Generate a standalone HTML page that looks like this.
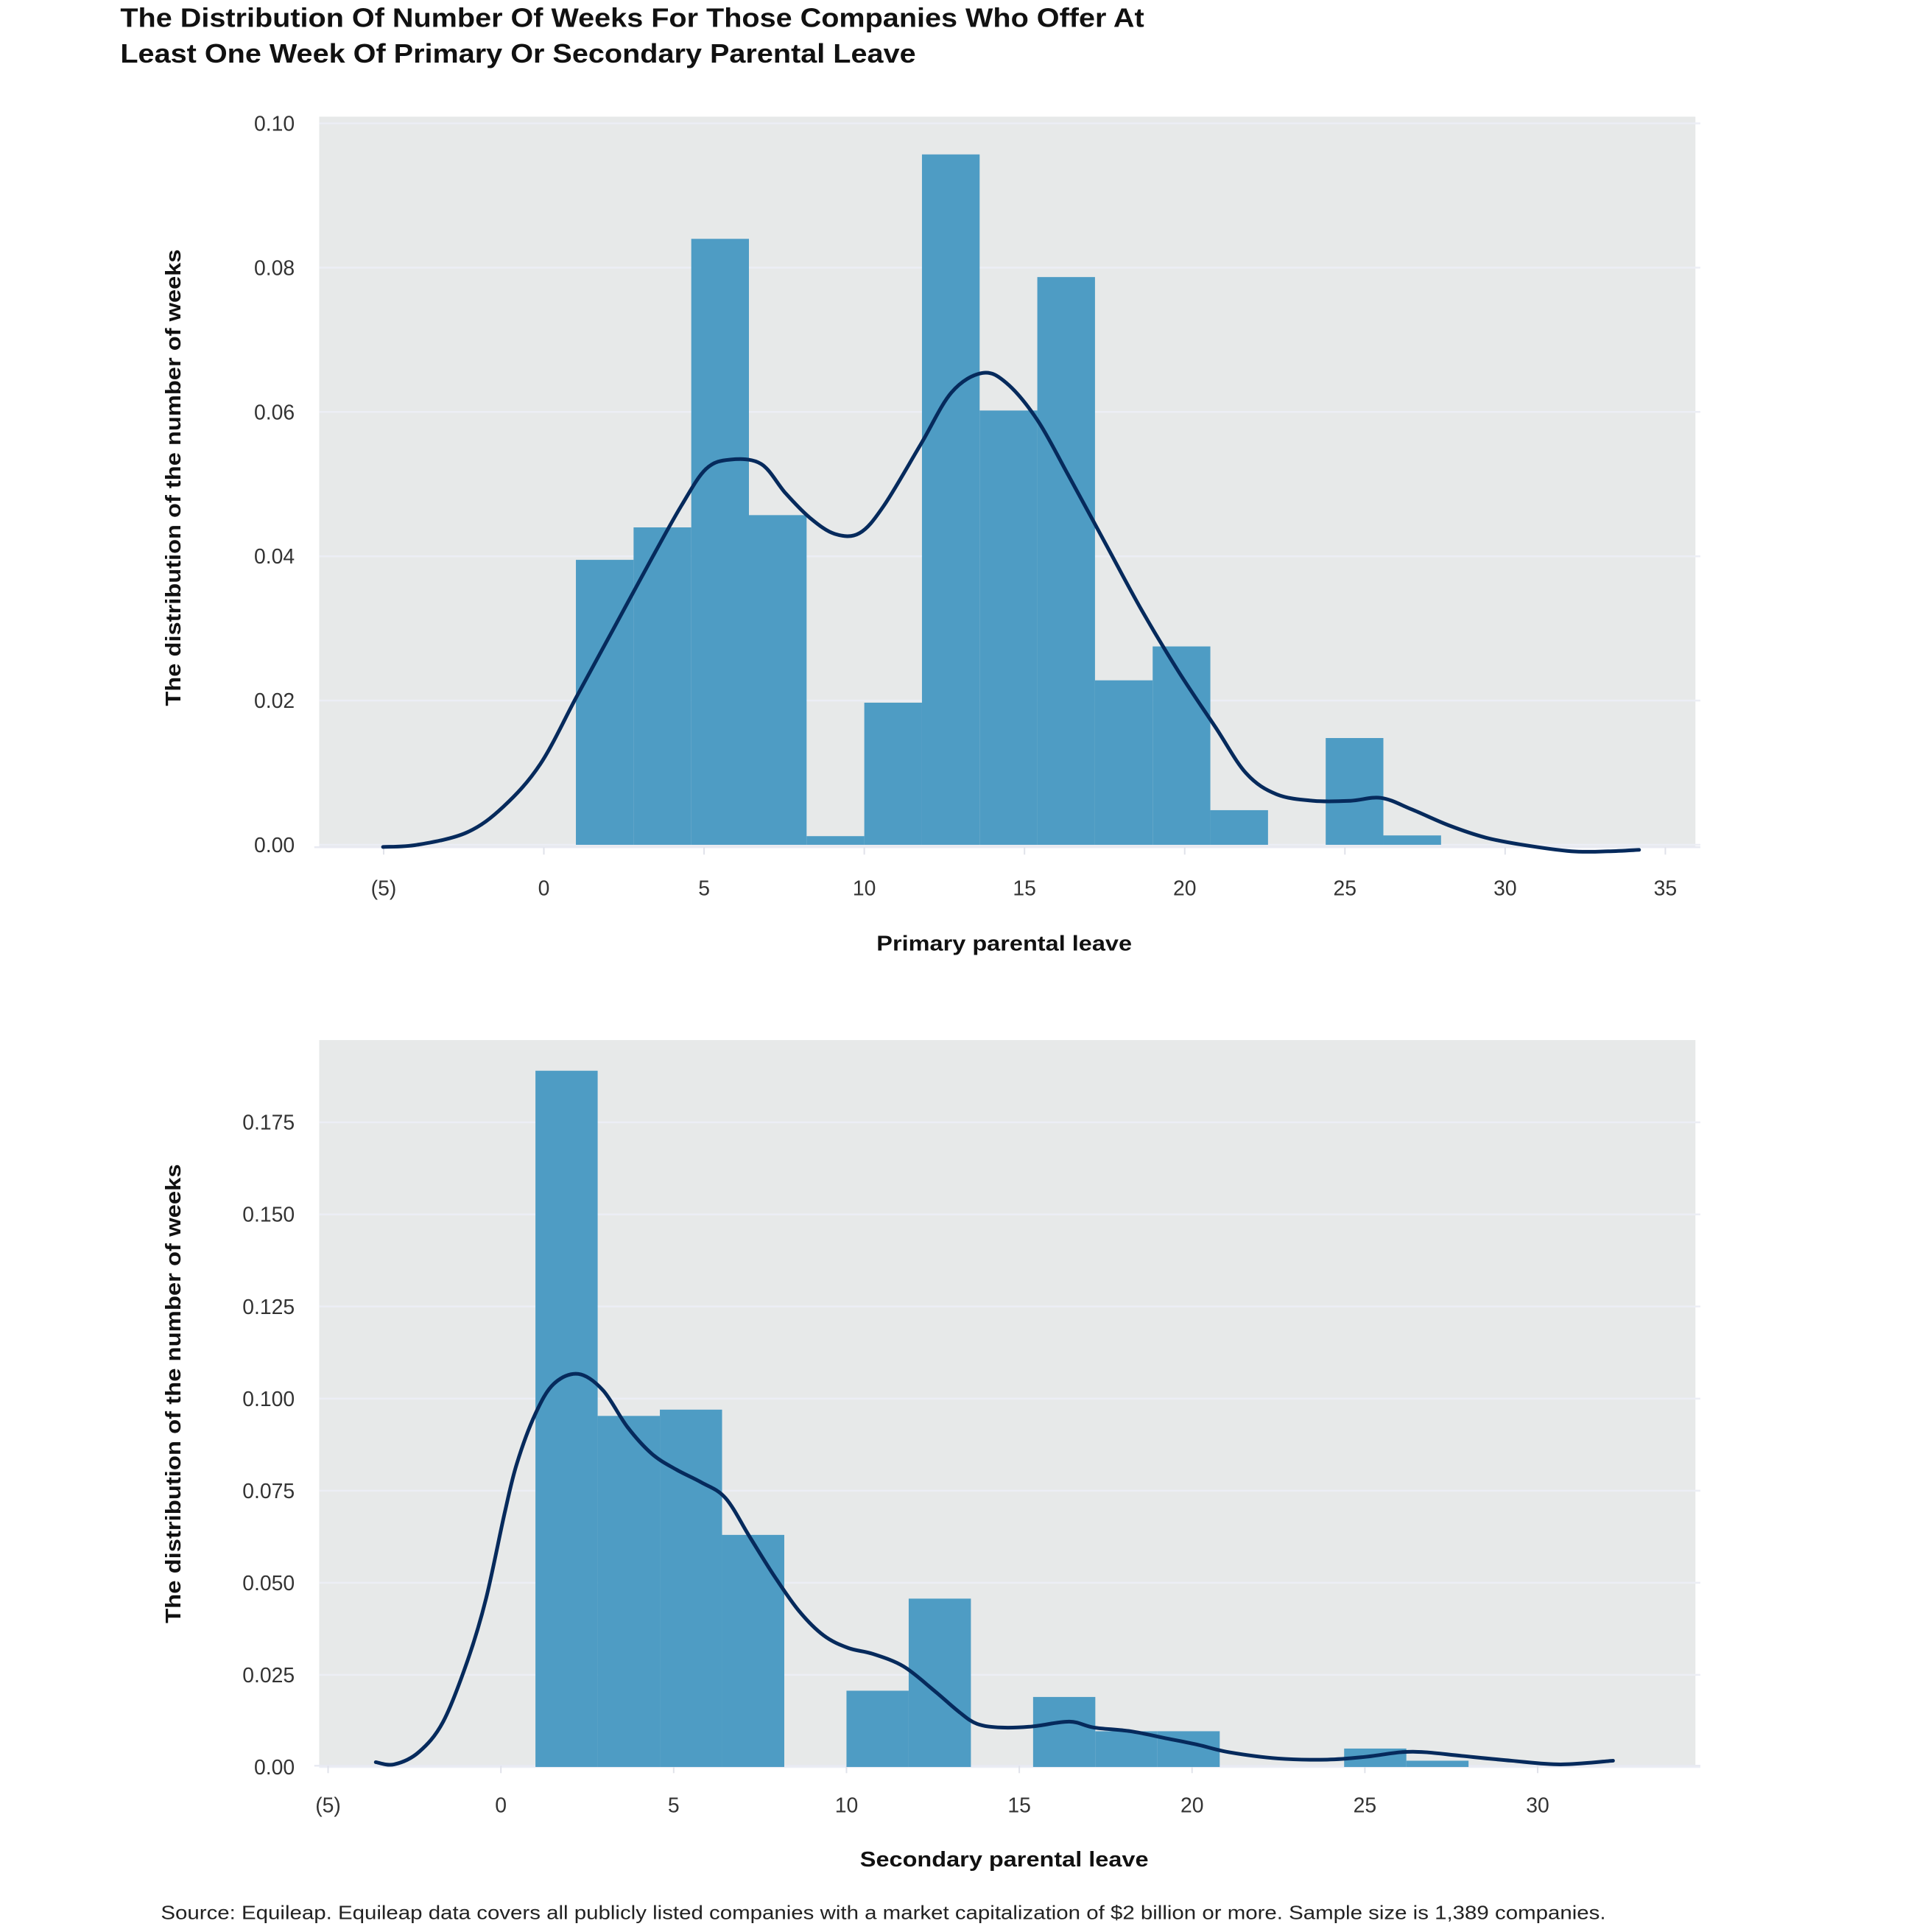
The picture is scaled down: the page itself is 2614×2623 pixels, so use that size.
<!DOCTYPE html>
<html><head><meta charset="utf-8"><style>
html,body{margin:0;padding:0;background:#fff;}
svg{display:block;}
text{font-family:"Liberation Sans",sans-serif;}
</style></head><body>
<svg id="c" width="2614" height="2623" viewBox="0 0 1568 1573.4" preserveAspectRatio="none">
<text x="98" y="22" font-size="21.5" font-weight="bold" fill="#111" textLength="834" lengthAdjust="spacingAndGlyphs">The Distribution Of Number Of Weeks For Those Companies Who Offer At</text>
<text x="98" y="51" font-size="21.5" font-weight="bold" fill="#111" textLength="648" lengthAdjust="spacingAndGlyphs">Least One Week Of Primary Or Secondary Parental Leave</text>
<text x="131" y="1563" font-size="15.5" fill="#222" textLength="1177" lengthAdjust="spacingAndGlyphs">Source: Equileap. Equileap data covers all publicly listed companies with a market capitalization of $2 billion or more. Sample size is 1,389 companies.</text>
<g id="top"></g><g id="bot"></g>
</svg>
<script>
// ---- Top chart data ----
const binEdges1 = [1,2.8,4.6,6.4,8.2,10,11.8,13.6,15.4,17.2,19,20.8,22.6,24.4,26.2,28];
const density1 = [0.0395,0.044,0.084,0.0457,0.0012,0.0197,0.0957,0.0602,0.0787,0.0228,0.0275,0.0048,0,0.0148,0.0013];
const kdeX1 = [-5.02,-3.95,-2.41,-1.26,-0.11,1.03,2.18,3.33,4.29,5.06,5.82,6.78,7.55,8.31,9.08,9.85,10.61,11.76,12.72,13.68,14.44,15.4,16.36,17.51,18.66,19.81,20.96,21.92,22.87,24.02,25.17,26.13,27.09,28.24,29.39,30.54,32.07,33.22,34.18];
const kdeY1 = [-0.0003,0.0,0.0017,0.0053,0.0112,0.0206,0.03,0.0394,0.047,0.0521,0.0534,0.0528,0.0487,0.0453,0.0431,0.0432,0.047,0.0555,0.0627,0.0654,0.064,0.0589,0.0513,0.0419,0.0325,0.024,0.0163,0.0099,0.007,0.0061,0.0061,0.0065,0.0049,0.0027,0.001,0.0,-0.0009,-0.0009,-0.0007];
const yTicks1 = [0,0.02,0.04,0.06,0.08,0.10];
const yTickLabels1 = ["0.00","0.02","0.04","0.06","0.08","0.10"];
const xTicks1 = [-5,0,5,10,15,20,25,30,35];
const xTickLabels1 = ["(5)","0","5","10","15","20","25","30","35"];
// ---- Bottom chart data ----
const binEdges2 = [1,2.8,4.6,6.4,8.2,10,11.8,13.6,15.4,17.2,19,20.8,22.6,24.4,26.2,28];
const density2 = [0.189,0.0953,0.097,0.063,0,0.0207,0.0457,0,0.019,0.0097,0.0097,0,0,0.005,0.0017];
const kdeX2 = [-3.62,-3.09,-2.38,-1.67,-0.96,-0.43,0.11,0.46,0.99,1.53,2.24,2.95,3.66,4.37,5.08,5.79,6.5,7.21,7.92,8.63,9.34,10.05,10.76,11.65,12.54,13.25,13.78,14.49,15.38,16.45,17.16,18.22,19.29,20.18,21.07,22.49,23.91,24.97,26.04,26.75,27.81,29.24,30.66,32.18];
const kdeY2 = [0.0013,0.0007,0.004,0.0123,0.029,0.0457,0.069,0.0823,0.0957,0.104,0.1067,0.1023,0.0923,0.085,0.0807,0.0773,0.073,0.0623,0.0517,0.0423,0.0357,0.0323,0.0307,0.0273,0.0207,0.015,0.0117,0.0107,0.011,0.0123,0.0107,0.0097,0.0077,0.006,0.004,0.0023,0.002,0.0027,0.004,0.004,0.003,0.0017,0.0007,0.0017];
const yTicks2 = [0,0.025,0.05,0.075,0.1,0.125,0.15,0.175];
const yTickLabels2 = ["0.00","0.025","0.050","0.075","0.100","0.125","0.150","0.175"];
const xTicks2 = [-5,0,5,10,15,20,25,30];
const xTickLabels2 = ["(5)","0","5","10","15","20","25","30"];

const NS="http://www.w3.org/2000/svg";
function mk(parent,tag,attrs){const e=document.createElementNS(NS,tag);for(const k in attrs)e.setAttribute(k,attrs[k]);parent.appendChild(e);return e;}
function smooth(pts){let d="M"+pts[0][0]+","+pts[0][1];for(let i=0;i<pts.length-1;i++){const p0=pts[i-1]||pts[i],p1=pts[i],p2=pts[i+1],p3=pts[i+2]||p2;
const c1=[p1[0]+(p2[0]-p0[0])/6,p1[1]+(p2[1]-p0[1])/6],c2=[p2[0]-(p3[0]-p1[0])/6,p2[1]-(p3[1]-p1[1])/6];
d+=" C"+c1[0]+","+c1[1]+" "+c2[0]+","+c2[1]+" "+p2[0]+","+p2[1];}return d;}

function draw(g,cfg){
  const {bg,x0,xs,y0,ys,edges,dens,kx,ky,yt,ytl,xt,xtl,xlab,ylab,ylabY,xlabY,xtY,xlabW,ylabW}=cfg;
  const X=v=>x0+v*xs, Y=v=>y0-v*ys;
  const r=mk(g,'rect',{x:bg[0],y:bg[1],width:bg[2]-bg[0],height:bg[3]-bg[1],fill:'#e7e9e9'});
  
  
  yt.forEach((t,i)=>{
    const l=mk(g,'line',{x1:bg[0],x2:bg[2]+4,y1:Y(t),y2:Y(t),stroke:'#eceef5','stroke-width':1.5});
    
    
    const tx=mk(g,'text',{x:240,y:Y(t)+6,'text-anchor':'end','font-size':17,fill:'#333'});
    tx.textContent=ytl[i];
    
    
  });
  mk(g,'line',{x1:bg[0]-4,x2:bg[2]+4,y1:bg[3],y2:bg[3],stroke:'#e8eaf2','stroke-width':1.5});
  xt.forEach((t,i)=>{
    const tk=mk(g,'line',{x1:X(t),x2:X(t),y1:bg[3],y2:bg[3]+6,stroke:'#e0e2ea','stroke-width':1.2});
    
    
    const tx=mk(g,'text',{x:X(t),y:xtY,'text-anchor':'middle','font-size':17,fill:'#333'});
    tx.textContent=xtl[i];
    
    
  });
  dens.forEach((d,i)=>{
    if(d<=0)return;
    const b=mk(g,'rect',{x:X(edges[i]),y:Y(d),width:X(edges[i+1])-X(edges[i]),height:Y(0)-Y(d),fill:'#4e9cc4'});
    
    
  });
  const pts=kx.map((v,i)=>[X(v),Y(ky[i])]);
  const p=mk(g,'path',{d:smooth(pts),fill:'none',stroke:'#062a5c','stroke-width':3,'stroke-linecap':'round'});
  
  
  const xl=mk(g,'text',{x:818,y:xlabY,'text-anchor':'middle','font-size':17,'font-weight':'bold',fill:'#111',textLength:xlabW,lengthAdjust:'spacingAndGlyphs'});
  xl.textContent=xlab;
  
  
  const yl=mk(g,'text',{x:0,y:0,'text-anchor':'middle','font-size':17,'font-weight':'bold',fill:'#111',transform:'translate(147,'+ylabY+') rotate(-90)',textLength:ylabW,lengthAdjust:'spacingAndGlyphs'});
  yl.textContent=ylab;
  
  
}
draw(document.getElementById('top'),{bg:[260,95,1381,690],x0:443,xs:26.1,y0:688,ys:5875,edges:binEdges1,dens:density1,kx:kdeX1,ky:kdeY1,yt:yTicks1,ytl:yTickLabels1,xt:xTicks1,xtl:xTickLabels1,xlab:'Primary parental leave',ylab:'The distribution of the  number of weeks',ylabY:389,xlabY:774,xtY:729,xlabW:208,ylabW:372});
draw(document.getElementById('bot'),{bg:[260,847,1381,1438],x0:408,xs:28.15,y0:1439,ys:3000,edges:binEdges2,dens:density2,kx:kdeX2,ky:kdeY2,yt:yTicks2,ytl:yTickLabels2,xt:xTicks2,xtl:xTickLabels2,xlab:'Secondary parental leave',ylab:'The distribution of the  number of weeks',ylabY:1135,xlabY:1520,xtY:1476,xlabW:235,ylabW:374});
</script>
</body></html>
